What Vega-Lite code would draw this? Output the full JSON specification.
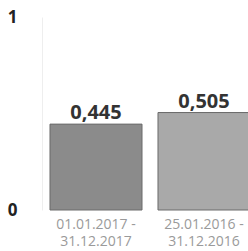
{
  "$schema": "https://vega.github.io/schema/vega-lite/v6.json",
  "autosize": {"type": "none"},
  "width": 206,
  "height": 193,
  "padding": {"left": 42, "top": 17, "right": 0, "bottom": 41},
  "background": "white",
  "config": {"view": {"stroke": null},
    "locale": {"number": {"decimal": ",", "thousands": ".", "grouping": [3], "currency": ["", " €"]}}},
  "data": {"values": [
    {"period": "01.01.2017 -|31.12.2017", "value": 0.445},
    {"period": "25.01.2016 -|31.12.2016", "value": 0.505}
  ]},
  "encoding": {
    "x": {"field": "period", "type": "nominal", "sort": null,
      "scale": {"range": [0, 216], "paddingInner": 0.148, "paddingOuter": 0.074},
      "axis": {"title": null, "domain": false, "ticks": false, "labelAngle": 0,
        "labelExpr": "split(datum.label, '|')", "labelFont": "Open Sans", "labelFontSize": 14,
        "labelColor": "#9a9a9a", "labelLineHeight": 17, "labelPadding": 7, "labelBaseline": "top"}},
    "y": {"field": "value", "type": "quantitative",
      "scale": {"domain": [0, 1], "nice": false},
      "axis": {"title": null, "values": [0, 1], "format": "d", "grid": false, "ticks": false,
        "domainColor": "#eeeeee", "labelFont": "Open Sans", "labelFontWeight": "bold",
        "labelFontSize": 17, "labelColor": "#222222", "labelPadding": 25}}
  },
  "layer": [
    {"mark": {"type": "bar", "stroke": "#6a6a6a", "strokeWidth": 1},
     "encoding": {"color": {"field": "period", "type": "nominal", "legend": null,
       "scale": {"range": ["#8b8b8b", "#a9a9a9"]}}}},
    {"mark": {"type": "text", "baseline": "alphabetic", "dy": -5, "font": "Open Sans",
       "fontWeight": "bold", "fontSize": 20, "color": "#333333"},
     "encoding": {"text": {"field": "value", "type": "quantitative", "format": ".3f"},
       "detail": {"field": "period"}}}
  ]
}
